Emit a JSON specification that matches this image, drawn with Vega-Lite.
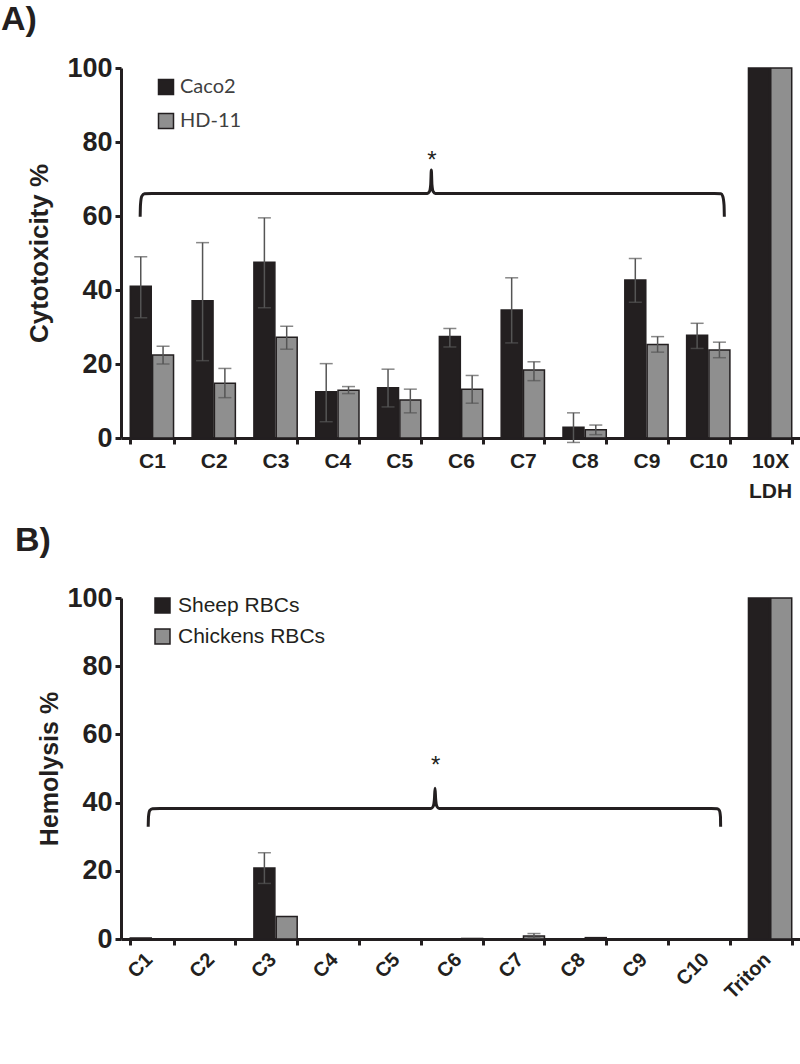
{
  "$schema": "https://vega.github.io/schema/vega-lite/v6.json",
  "padding": {"left": 0, "top": 3, "right": 0, "bottom": 0},
  "background": "white",
  "bounds": "flush",
  "spacing": 160,
  "resolve": {"scale": {"color": "independent", "xOffset": "independent", "x": "independent", "y": "independent"}, "legend": {"color": "independent"}},
  "config": {
    "view": {"stroke": null},
    "font": "Liberation Sans",
    "axis": {
      "domainColor": "#231f20", "domainWidth": 3,
      "tickColor": "#231f20", "tickWidth": 3, "tickSize": 6,
      "labelColor": "#231f20", "titleColor": "#231f20",
      "labelFont": "Liberation Sans", "titleFont": "Liberation Sans",
      "labelFontWeight": "bold", "titleFontWeight": "bold", "grid": false
    }
  },
  "datasets": {
    "A": [
      {"cat": "C1", "series": "Caco2", "value": 41.0, "lo": 32.5, "hi": 49.0},
      {"cat": "C1", "series": "HD-11", "value": 22.4, "lo": 20.0, "hi": 24.8},
      {"cat": "C2", "series": "Caco2", "value": 37.1, "lo": 20.9, "hi": 52.8},
      {"cat": "C2", "series": "HD-11", "value": 14.8, "lo": 10.9, "hi": 18.8},
      {"cat": "C3", "series": "Caco2", "value": 47.5, "lo": 35.2, "hi": 59.5},
      {"cat": "C3", "series": "HD-11", "value": 27.2, "lo": 24.0, "hi": 30.2},
      {"cat": "C4", "series": "Caco2", "value": 12.5, "lo": 4.4, "hi": 20.1},
      {"cat": "C4", "series": "HD-11", "value": 12.9, "lo": 12.0, "hi": 13.9},
      {"cat": "C5", "series": "Caco2", "value": 13.6, "lo": 8.4, "hi": 18.6},
      {"cat": "C5", "series": "HD-11", "value": 10.3, "lo": 6.8, "hi": 13.2},
      {"cat": "C6", "series": "Caco2", "value": 27.4, "lo": 24.6, "hi": 29.6},
      {"cat": "C6", "series": "HD-11", "value": 13.2, "lo": 9.4, "hi": 16.9},
      {"cat": "C7", "series": "Caco2", "value": 34.6, "lo": 25.7, "hi": 43.3},
      {"cat": "C7", "series": "HD-11", "value": 18.4, "lo": 15.5, "hi": 20.6},
      {"cat": "C8", "series": "Caco2", "value": 2.9, "lo": -1.2, "hi": 6.8},
      {"cat": "C8", "series": "HD-11", "value": 2.2, "lo": 0.9, "hi": 3.5},
      {"cat": "C9", "series": "Caco2", "value": 42.7, "lo": 36.7, "hi": 48.5},
      {"cat": "C9", "series": "HD-11", "value": 25.3, "lo": 23.2, "hi": 27.4},
      {"cat": "C10", "series": "Caco2", "value": 27.8, "lo": 24.2, "hi": 31.0},
      {"cat": "C10", "series": "HD-11", "value": 23.8, "lo": 21.7, "hi": 25.9},
      {"cat": "10X LDH", "series": "Caco2", "value": 100, "lo": null, "hi": null},
      {"cat": "10X LDH", "series": "HD-11", "value": 100, "lo": null, "hi": null}
    ],
    "B": [
      {"cat": "C1", "series": "Sheep RBCs", "value": 0.3, "lo": null, "hi": null},
      {"cat": "C1", "series": "Chickens RBCs", "value": 0, "lo": null, "hi": null},
      {"cat": "C2", "series": "Sheep RBCs", "value": 0, "lo": null, "hi": null},
      {"cat": "C2", "series": "Chickens RBCs", "value": 0, "lo": null, "hi": null},
      {"cat": "C3", "series": "Sheep RBCs", "value": 20.8, "lo": 16.3, "hi": 25.3},
      {"cat": "C3", "series": "Chickens RBCs", "value": 6.6, "lo": null, "hi": null},
      {"cat": "C4", "series": "Sheep RBCs", "value": 0, "lo": null, "hi": null},
      {"cat": "C4", "series": "Chickens RBCs", "value": 0, "lo": null, "hi": null},
      {"cat": "C5", "series": "Sheep RBCs", "value": 0, "lo": null, "hi": null},
      {"cat": "C5", "series": "Chickens RBCs", "value": 0, "lo": null, "hi": null},
      {"cat": "C6", "series": "Sheep RBCs", "value": 0, "lo": null, "hi": null},
      {"cat": "C6", "series": "Chickens RBCs", "value": 0.15, "lo": null, "hi": null},
      {"cat": "C7", "series": "Sheep RBCs", "value": 0, "lo": null, "hi": null},
      {"cat": "C7", "series": "Chickens RBCs", "value": 0.9, "lo": 0.3, "hi": 1.6},
      {"cat": "C8", "series": "Sheep RBCs", "value": 0, "lo": null, "hi": null},
      {"cat": "C8", "series": "Chickens RBCs", "value": 0.4, "lo": null, "hi": null},
      {"cat": "C9", "series": "Sheep RBCs", "value": 0, "lo": null, "hi": null},
      {"cat": "C9", "series": "Chickens RBCs", "value": 0, "lo": null, "hi": null},
      {"cat": "C10", "series": "Sheep RBCs", "value": 0, "lo": null, "hi": null},
      {"cat": "C10", "series": "Chickens RBCs", "value": 0, "lo": null, "hi": null},
      {"cat": "Triton", "series": "Sheep RBCs", "value": 100, "lo": null, "hi": null},
      {"cat": "Triton", "series": "Chickens RBCs", "value": 100, "lo": null, "hi": null}
    ],
    "braceA": [
      {"u": 0.31, "value": 59.8}, {"u": 0.315, "value": 63.0}, {"u": 0.335, "value": 65.3},
      {"u": 0.38, "value": 66.0}, {"u": 0.5, "value": 66.1}, {"u": 4.955, "value": 66.1},
      {"u": 4.99, "value": 66.6}, {"u": 5.01, "value": 68.5}, {"u": 5.02, "value": 72.4},
      {"u": 5.03, "value": 68.5}, {"u": 5.05, "value": 66.6}, {"u": 5.085, "value": 66.1},
      {"u": 9.6, "value": 66.1}, {"u": 9.705, "value": 66.0}, {"u": 9.735, "value": 65.3},
      {"u": 9.755, "value": 63.0}, {"u": 9.76, "value": 59.8}
    ],
    "braceB": [
      {"u": 0.44, "value": 32.9}, {"u": 0.445, "value": 35.9}, {"u": 0.465, "value": 37.7},
      {"u": 0.51, "value": 38.2}, {"u": 0.63, "value": 38.3}, {"u": 5.015, "value": 38.3},
      {"u": 5.05, "value": 38.9}, {"u": 5.07, "value": 41.0}, {"u": 5.08, "value": 44.2},
      {"u": 5.09, "value": 41.0}, {"u": 5.11, "value": 38.9}, {"u": 5.145, "value": 38.3},
      {"u": 9.55, "value": 38.3}, {"u": 9.645, "value": 38.2}, {"u": 9.68, "value": 37.7},
      {"u": 9.697, "value": 35.9}, {"u": 9.70, "value": 32.9}
    ],
    "starA": [{"u": 5.03, "value": 75.0, "label": "*"}],
    "starB": [{"u": 5.09, "value": 50.8, "label": "*"}]
  },
  "vconcat": [
    {
      "title": {"text": "A)", "anchor": "start", "fontSize": 34, "fontWeight": "bold", "font": "Liberation Sans", "color": "#231f20", "dx": -26, "offset": 17},
      "width": 680,
      "height": 370,
      "resolve": {"scale": {"x": "independent"}},
      "layer": [
        {
          "data": {"name": "A"},
          "layer": [
            {
              "mark": {"type": "bar", "stroke": "#231f20", "strokeWidth": 1.5},
              "encoding": {
                "x": {"field": "cat", "type": "nominal", "sort": ["C1","C2","C3","C4","C5","C6","C7","C8","C9","C10","10X LDH"],
                  "scale": {"paddingInner": 0.3, "paddingOuter": 0.15},
                  "axis": {"title": null, "labelAngle": 0, "labelFontSize": 21, "labelPadding": 6, "tickBand": "extent", "labelLineHeight": 30, "labelBaseline": "top",
                    "labelExpr": "datum.value == '10X LDH' ? ['10X', 'LDH'] : datum.value"}},
                "xOffset": {"field": "series", "type": "nominal", "sort": ["Caco2", "HD-11"], "scale": {"paddingInner": 0.06}},
                "y": {"field": "value", "type": "quantitative", "scale": {"domain": [0, 100]},
                  "axis": {"title": "Cytotoxicity %", "values": [0, 20, 40, 60, 80, 100], "labelFontSize": 27, "titleFontSize": 26, "labelPadding": 3, "titlePadding": 14}},
                "color": {"field": "series", "type": "nominal", "sort": ["Caco2", "HD-11"],
                  "scale": {"domain": ["Caco2", "HD-11"], "range": ["#231f20", "#8f8f8f"]},
                  "legend": {"title": null, "orient": "none", "legendX": 35, "legendY": 9, "symbolType": "square", "symbolSize": 225,
                    "symbolStrokeColor": "#231f20", "symbolStrokeWidth": 1.5, "labelFontSize": 20, "labelFont": "Lato", "labelColor": "#404040",
                    "rowPadding": 12, "labelOffset": 4, "padding": 0}}
              }
            },
            {
              "transform": [{"filter": "datum.hi != null"}],
              "mark": {"type": "rule", "color": "#555555", "strokeWidth": 1.5},
              "encoding": {
                "x": {"field": "cat", "type": "nominal", "sort": ["C1","C2","C3","C4","C5","C6","C7","C8","C9","C10","10X LDH"]},
                "xOffset": {"field": "series", "type": "nominal", "sort": ["Caco2", "HD-11"]},
                "y": {"field": "lo", "type": "quantitative"},
                "y2": {"field": "hi"}
              }
            },
            {
              "transform": [{"filter": "datum.hi != null"}],
              "mark": {"type": "tick", "color": "#555555", "thickness": 1.5, "size": 13, "orient": "horizontal"},
              "encoding": {
                "x": {"field": "cat", "type": "nominal", "sort": ["C1","C2","C3","C4","C5","C6","C7","C8","C9","C10","10X LDH"]},
                "xOffset": {"field": "series", "type": "nominal", "sort": ["Caco2", "HD-11"]},
                "y": {"field": "hi", "type": "quantitative"}
              }
            },
            {
              "transform": [{"filter": "datum.lo != null"}],
              "mark": {"type": "tick", "color": "#555555", "thickness": 1.5, "size": 13, "orient": "horizontal"},
              "encoding": {
                "x": {"field": "cat", "type": "nominal", "sort": ["C1","C2","C3","C4","C5","C6","C7","C8","C9","C10","10X LDH"]},
                "xOffset": {"field": "series", "type": "nominal", "sort": ["Caco2", "HD-11"]},
                "y": {"field": "lo", "type": "quantitative"}
              }
            }
          ]
        },
        {
          "data": {"name": "braceA"},
          "mark": {"type": "line", "color": "#231f20", "strokeWidth": 3, "interpolate": "monotone"},
          "encoding": {
            "x": {"field": "u", "type": "quantitative", "scale": {"domain": [0, 11], "nice": false, "zero": false}, "axis": null},
            "y": {"field": "value", "type": "quantitative"}
          }
        },
        {
          "data": {"name": "starA"},
          "mark": {"type": "text", "fontSize": 24, "font": "Liberation Sans", "color": "#231f20", "baseline": "middle"},
          "encoding": {
            "x": {"field": "u", "type": "quantitative", "scale": {"domain": [0, 11], "nice": false, "zero": false}, "axis": null},
            "y": {"field": "value", "type": "quantitative"},
            "text": {"field": "label"}
          }
        }
      ]
    },
    {
      "title": {"text": "B)", "anchor": "start", "fontSize": 34, "fontWeight": "bold", "font": "Liberation Sans", "color": "#231f20", "dx": -23, "offset": 26},
      "width": 680,
      "height": 341,
      "resolve": {"scale": {"x": "independent"}},
      "layer": [
        {
          "data": {"name": "B"},
          "layer": [
            {
              "mark": {"type": "bar", "stroke": "#231f20", "strokeWidth": 1.5},
              "encoding": {
                "x": {"field": "cat", "type": "nominal", "sort": ["C1","C2","C3","C4","C5","C6","C7","C8","C9","C10","Triton"],
                  "scale": {"paddingInner": 0.3, "paddingOuter": 0.15},
                  "axis": {"title": null, "labelAngle": -45, "labelFontSize": 20, "labelPadding": 4, "labelOffset": -10, "tickBand": "extent"}},
                "xOffset": {"field": "series", "type": "nominal", "sort": ["Sheep RBCs", "Chickens RBCs"], "scale": {"paddingInner": 0.06}},
                "y": {"field": "value", "type": "quantitative", "scale": {"domain": [0, 100]},
                  "axis": {"title": "Hemolysis %", "values": [0, 20, 40, 60, 80, 100], "labelFontSize": 27, "titleFontSize": 25, "labelPadding": 3, "titlePadding": 4}},
                "color": {"field": "series", "type": "nominal", "sort": ["Sheep RBCs", "Chickens RBCs"],
                  "scale": {"domain": ["Sheep RBCs", "Chickens RBCs"], "range": ["#231f20", "#8f8f8f"]},
                  "legend": {"title": null, "orient": "none", "legendX": 31, "legendY": -3, "symbolType": "square", "symbolSize": 225,
                    "symbolStrokeColor": "#231f20", "symbolStrokeWidth": 1.5, "labelFontSize": 21, "labelFont": "Liberation Sans", "labelColor": "#231f20",
                    "rowPadding": 9, "labelOffset": 5, "padding": 0}}
              }
            },
            {
              "transform": [{"filter": "datum.hi != null"}],
              "mark": {"type": "rule", "color": "#555555", "strokeWidth": 1.5},
              "encoding": {
                "x": {"field": "cat", "type": "nominal", "sort": ["C1","C2","C3","C4","C5","C6","C7","C8","C9","C10","Triton"]},
                "xOffset": {"field": "series", "type": "nominal", "sort": ["Sheep RBCs", "Chickens RBCs"]},
                "y": {"field": "lo", "type": "quantitative"},
                "y2": {"field": "hi"}
              }
            },
            {
              "transform": [{"filter": "datum.hi != null"}],
              "mark": {"type": "tick", "color": "#555555", "thickness": 1.5, "size": 13, "orient": "horizontal"},
              "encoding": {
                "x": {"field": "cat", "type": "nominal", "sort": ["C1","C2","C3","C4","C5","C6","C7","C8","C9","C10","Triton"]},
                "xOffset": {"field": "series", "type": "nominal", "sort": ["Sheep RBCs", "Chickens RBCs"]},
                "y": {"field": "hi", "type": "quantitative"}
              }
            },
            {
              "transform": [{"filter": "datum.lo != null"}],
              "mark": {"type": "tick", "color": "#555555", "thickness": 1.5, "size": 13, "orient": "horizontal"},
              "encoding": {
                "x": {"field": "cat", "type": "nominal", "sort": ["C1","C2","C3","C4","C5","C6","C7","C8","C9","C10","Triton"]},
                "xOffset": {"field": "series", "type": "nominal", "sort": ["Sheep RBCs", "Chickens RBCs"]},
                "y": {"field": "lo", "type": "quantitative"}
              }
            }
          ]
        },
        {
          "data": {"name": "braceB"},
          "mark": {"type": "line", "color": "#231f20", "strokeWidth": 3, "interpolate": "monotone"},
          "encoding": {
            "x": {"field": "u", "type": "quantitative", "scale": {"domain": [0, 11], "nice": false, "zero": false}, "axis": null},
            "y": {"field": "value", "type": "quantitative"}
          }
        },
        {
          "data": {"name": "starB"},
          "mark": {"type": "text", "fontSize": 24, "font": "Liberation Sans", "color": "#231f20", "baseline": "middle"},
          "encoding": {
            "x": {"field": "u", "type": "quantitative", "scale": {"domain": [0, 11], "nice": false, "zero": false}, "axis": null},
            "y": {"field": "value", "type": "quantitative"},
            "text": {"field": "label"}
          }
        }
      ]
    }
  ]
}
